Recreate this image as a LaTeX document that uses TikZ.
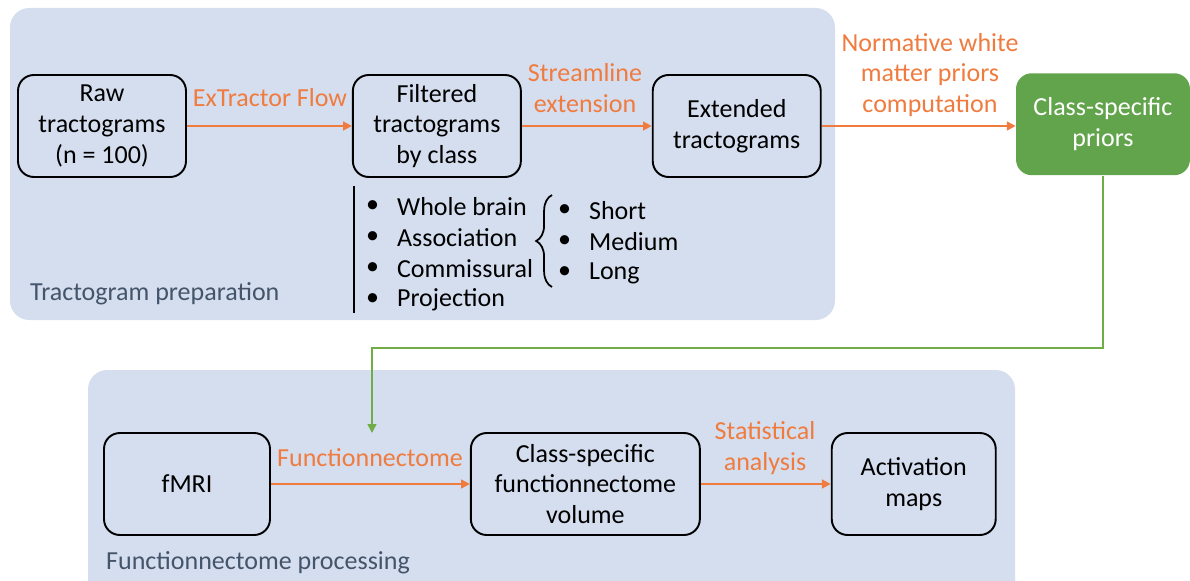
\documentclass[tikz,border=0pt]{standalone}
\usepackage{fontspec}
\setmainfont{Carlito}
\usetikzlibrary{arrows.meta,positioning,decorations.pathreplacing}
\definecolor{panel}{HTML}{D5DEEF}
\definecolor{flow}{HTML}{F07B3F}
\definecolor{priorgreen}{HTML}{62A44B}
\definecolor{linkgreen}{HTML}{70AD47}
\definecolor{caption}{HTML}{44546A}
\tikzset{%
   stage/.style={draw=black, line width=1.1pt, rounded corners=9pt, align=center,
      minimum width=3.36cm, minimum height=2.04cm, inner sep=2pt},
   priorbox/.style={fill=priorgreen, rounded corners=9pt, align=center, text=white,
      minimum width=3.48cm, minimum height=2.04cm, inner sep=2pt},
   flowarr/.style={draw=flow, line width=1.1pt, -{Triangle[length=5pt,width=5pt]}},
   flowlab/.style={text=flow, align=center, inner sep=1pt},
   item/.style={anchor=west, inner sep=1pt},
}

\begin{document}
\begin{tikzpicture}[x=0.02cm, y=-0.02cm, font=\fontsize{14.8}{17.6}\selectfont]
   \useasboundingbox (0,0) rectangle (1190,581);
   % panels
   \fill[panel, rounded corners=11pt] (10,8) rectangle (835,320);
   \fill[panel, rounded corners=11pt] (88,370) rectangle (1015,600);
   \node[text=caption, anchor=west] (prep) at (24,294) {Tractogram preparation};
   \node[text=caption, anchor=west] (proc) at (100,563) {Functionnectome processing};
   % top row
   \node[stage] (raw) at (102,126) {Raw\\tractograms\\(n = 100)};
   \node[stage, right=3.3cm of raw] (filt) {Filtered\\tractograms\\by class};
   \node[stage, right=2.6cm of filt] (ext) {Extended\\tractograms};
   \node[priorbox, right=3.88cm of ext, yshift=1pt] (pri) {Class-specific\\priors};
   \draw[flowarr] (raw) -- (filt);
   \draw[flowarr] (filt) -- (ext);
   \draw[flowarr] (ext) -- (ext -| pri.west);
   \node[flowlab] (l1) at (270,98) {ExTractor Flow};
   \node[flowlab] (l2) at (585,88) {Streamline\\extension};
   \node[flowlab] (l3) at (930,75) {Normative white\\matter priors\\computation};
   % classes
   \draw[line width=1.1pt] (354,186) -- (354,313);
   \foreach \t [count=\i] in {Whole brain, Association, Commissural, Projection} {
      \node[item] (b\i) at (364,176+31*\i) {\textbullet};
      \node[item] (c\i) at (395,176+31*\i) {\t};
   }
   \foreach \t [count=\i] in {Short, Medium, Long} {
      \node[item] (s\i) at (556,180+31*\i) {\textbullet};
      \node[item] (t\i) at (587,180+31*\i) {\t};
   }
   \draw[line width=1pt, decorate, decoration={brace, amplitude=9pt}] (552,287) -- (552,195);
   % bottom row
   \node[stage, minimum width=3.32cm] (fmri) at (187,484) {fMRI};
   \node[stage, minimum width=4.58cm, right=3.98cm of fmri] (vol) {Class-specific\\functionnectome\\volume};
   \node[stage, minimum width=3.28cm, right=2.6cm of vol] (act) {Activation\\maps};
   \draw[flowarr] (fmri) -- (vol);
   \draw[flowarr] (vol) -- (act);
   \node[flowlab] (l4) at (370,458) {Functionnectome};
   \node[flowlab] (l5) at (765,448) {Statistical\\analysis};
   % link
   \draw[draw=linkgreen, line width=0.9pt, -{Triangle[length=5pt,width=5pt]}]
      (pri.south) |- (372,348) -- (372,433);
\end{tikzpicture}
\end{document}
